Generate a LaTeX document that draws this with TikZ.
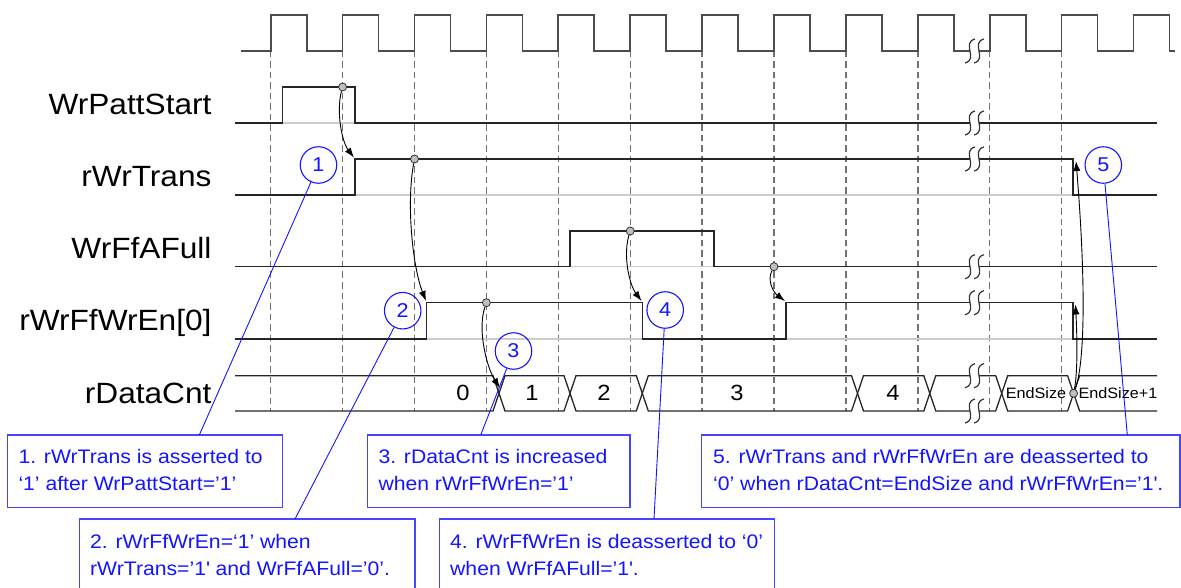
\documentclass[tikz,border=0pt]{standalone}
\usepackage{fontspec}
\setmainfont{Liberation Sans}[FakeStretch=1.08]
\usetikzlibrary{arrows.meta}
\definecolor{cblue}{RGB}{20,20,255}
\definecolor{bxblue}{RGB}{70,70,255}
\newcommand{\brkmark}[1]{%
  \fill[white] (975,{#1-12}) .. controls (961,{#1-8}) and (979,{#1+8}) .. (965,{#1+12}) -- (974,{#1+12}) .. controls (988,{#1+8}) and (970,{#1-8}) .. (984,{#1-12}) -- cycle;
  \draw[brkline] (975,{#1-12}) .. controls (961,{#1-8}) and (979,{#1+8}) .. (965,{#1+12});
  \draw[brkline] (984,{#1-12}) .. controls (970,{#1-8}) and (988,{#1+8}) .. (974,{#1+12});
}
\begin{document}
\begin{tikzpicture}[x=1pt,y=-1pt,
  clk/.style={draw=black!70,line width=1.7},
  sig/.style={draw=black!85,line width=1.3},
  base/.style={draw=black!20,line width=1.4},
  dsh/.style={draw=black!55,line width=1.4,dash pattern=on 6.5pt off 4pt},
  brkline/.style={draw=black!80,line width=1.2},
  lbl/.style={font=\fontsize{29.3}{32}\selectfont,anchor=base east,inner sep=0},
  busnum/.style={font=\fontsize{22}{24}\selectfont,inner sep=0},
  bussmall/.style={font=\fontsize{15}{17}\selectfont,inner sep=0},
  dotmark/.style={circle,draw=black!80,fill=black!25,line width=0.8,minimum size=8,inner sep=0},
  arr/.style={draw=black,line width=0.9,-{Latex[length=10pt,width=7pt]}},
  cnum/.style={circle,draw=cblue,line width=1.1,minimum size=36.5,inner sep=0,text=cblue,font=\fontsize{20}{22}\selectfont},
  lead/.style={draw=cblue,line width=0.9},
  cbox/.style={draw=bxblue,line width=1.4,anchor=north west,inner sep=0,outer sep=0},
  ctext/.style={font=\fontsize{19.6}{22}\selectfont,text=cblue,anchor=base west,inner sep=0}]
\useasboundingbox (0,0) rectangle (1181,588);

% dashed clock-edge lines
\foreach \k in {0,...,11}
  \draw[dsh] ({270.7+71.9*\k},51) -- ({270.7+71.9*\k},411);

% clock
\draw[clk] (241,51) foreach \k in {0,...,11} { -- ({270.7+71.9*\k},51) -- ++(0,-36) -- ++(36,0) -- ++(0,36) }
  -- (1133.5,51) -- ++(0,-36) -- ++(36,0) -- ++(0,36) -- (1175,51);

% grey baselines under high levels
\draw[base] (282.7,123) -- (355,123);
\draw[base] (355,195) -- (1073,195);
\draw[base] (570,266.7) -- (714,266.7);
\draw[base] (426.7,339) -- (642.3,339);
\draw[base] (786,339) -- (1073,339);

% signals
\draw[sig] (235,123) -- (282.7,123) -- (282.7,87) -- (355,87) -- (355,123) -- (1157,123);
\draw[sig] (235,195) -- (355,195) -- (355,159) -- (1073,159) -- (1073,195) -- (1157,195);
\draw[sig] (235,266.7) -- (570,266.7) -- (570,231) -- (714,231) -- (714,266.7) -- (1157,266.7);
\draw[sig] (235,339) -- (426.7,339) -- (426.7,302.7) -- (642.3,302.7) -- (642.3,339) -- (786,339) -- (786,302.7) -- (1073,302.7) -- (1073,339) -- (1157,339);
% bus
\draw[sig] (235,375.7) -- (493,375.7) -- (505,411) -- (564,411) -- (576,375.7) -- (636.3,375.7) -- (648.3,411) -- (851.5,411) -- (863.5,375.7) -- (923.8,375.7) -- (935.8,411) -- (995.7,411) -- (1007.7,375.7) -- (1067.6,375.7) -- (1079.6,411) -- (1157,411);
\draw[sig] (235,411) -- (493,411) -- (505,375.7) -- (564,375.7) -- (576,411) -- (636.3,411) -- (648.3,375.7) -- (851.5,375.7) -- (863.5,411) -- (923.8,411) -- (935.8,375.7) -- (995.7,375.7) -- (1007.7,411) -- (1067.6,411) -- (1079.6,375.7) -- (1157,375.7);

% break marks
\brkmark{51}
\brkmark{123}
\brkmark{159}
\brkmark{266.7}
\brkmark{302.7}
\brkmark{375.7}
\brkmark{411}

% labels
\node[lbl] (lWrPattStart) at (211.7,115) {WrPattStart};
\node[lbl] (lrWrTrans) at (211.7,186.7) {rWrTrans};
\node[lbl] (lWrFfAFull) at (211.7,258.3) {WrFfAFull};
\node[lbl] (lrWrFfWrEn) at (211.7,330) {rWrFfWrEn[0]};
\node[lbl] (lrDataCnt) at (211.7,403.3) {rDataCnt};

% bus values
\node[busnum] (v0) at (463,393.3) {0};
\node[busnum] (v1) at (532,393.3) {1};
\node[busnum] (v2) at (604,393.3) {2};
\node[busnum] (v3) at (737,393.3) {3};
\node[busnum] (v4) at (893,393.3) {4};
\node[bussmall] (vE) at (1036,393.3) {EndSize};
\node[bussmall] (vE1) at (1118,393.3) {EndSize+1};

% markers
\node[dotmark] (m1) at (342.6,87) {};
\node[dotmark] (m2) at (414.5,159) {};
\node[dotmark] (m3) at (486.4,302.7) {};
\node[dotmark] (m4) at (630.2,231) {};
\node[dotmark] (m5) at (774,266.7) {};
\node[dotmark] (m6) at (1073.6,393.3) {};

% arrow targets
\coordinate (t1) at (354,157.5);
\coordinate (t2) at (426,301);
\coordinate (t3) at (500,388);
\coordinate (t4) at (641.5,301);
\coordinate (t5) at (785,301);
\coordinate (t6) at (1075.5,304.5);
\coordinate (t7) at (1076,161);

\draw[arr] (m1) .. controls (336,112) and (342,142) .. (t1);
\draw[arr] (m2) .. controls (406,205) and (413,268) .. (t2);
\draw[arr] (m3) .. controls (477,330) and (487,368) .. (t3);
\draw[arr] (m4) .. controls (623,255) and (629,284) .. (t4);
\draw[arr] (m5) .. controls (767,280) and (773,292) .. (t5);
\draw[arr] (m6) .. controls (1078,370) and (1077,335) .. (t6);
\draw[arr] (m6) .. controls (1086,360) and (1085,270) .. (t7);

% callout circles
\node[cnum] (c1) at (318.5,165) {1};
\node[cnum] (c2) at (402.7,310.7) {2};
\node[cnum] (c3) at (513.5,351) {3};
\node[cnum] (c4) at (665.2,310) {4};
\node[cnum] (c5) at (1103.3,165) {5};

% callout boxes
\node[cbox,minimum width=275.4,minimum height=72.3] (b1) at (7.3,435) {};
\node[cbox,minimum width=335.7,minimum height=90] (b2) at (79.3,519) {};
\node[cbox,minimum width=262.7,minimum height=72.3] (b3) at (367.3,435) {};
\node[cbox,minimum width=335,minimum height=90] (b4) at (439.3,519) {};
\node[cbox,minimum width=478.3,minimum height=72.3] (b5) at (701.7,435) {};

\coordinate (e1) at (199.3,435);
\coordinate (e2) at (295,519);
\coordinate (e3) at (480.7,435);
\coordinate (e4) at (654,519);
\coordinate (e5) at (1127.3,435);
\draw[lead] (c1) -- (e1);
\draw[lead] (c2) -- (e2);
\draw[lead] (c3) -- (e3);
\draw[lead] (c4) -- (e4);
\draw[lead] (c5) -- (e5);

% callout texts
\node[ctext] (b1a) at (18.3,463) {1. rWrTrans is asserted to};
\node[ctext] (b1b) at (18.3,490) {‘1’ after WrPattStart=’1’};
\node[ctext] (b2a) at (90,548) {2. rWrFfWrEn=‘1’ when};
\node[ctext] (b2b) at (90,575) {rWrTrans=’1\textquotesingle{} and WrFfAFull=’0’.};
\node[ctext] (b3a) at (378.3,463) {3. rDataCnt is increased};
\node[ctext] (b3b) at (378.3,490) {when rWrFfWrEn=’1’};
\node[ctext] (b4a) at (450,548) {4. rWrFfWrEn is deasserted to ‘0’};
\node[ctext] (b4b) at (450,575) {when WrFfAFull=’1\textquotesingle.};
\node[ctext] (b5a) at (713,463) {5. rWrTrans and rWrFfWrEn are deasserted to};
\node[ctext] (b5b) at (713,490) {‘0’ when rDataCnt=EndSize and rWrFfWrEn=’1\textquotesingle.};
\end{tikzpicture}
\end{document}
